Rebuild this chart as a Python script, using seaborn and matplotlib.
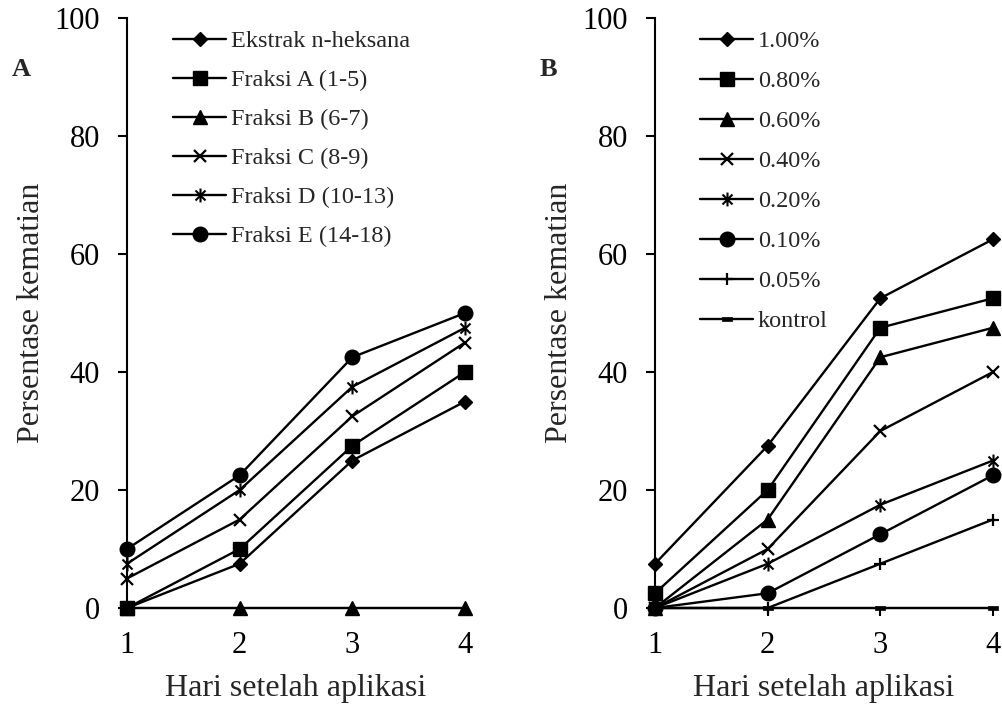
import matplotlib
matplotlib.use("Agg")
import matplotlib.pyplot as plt
import seaborn as sns
from matplotlib.path import Path

# ---------------- data ----------------
days = [1, 2, 3, 4]
x_ticklabels = ["1", "2", "3", "4"]
y_ticks = [0, 20, 40, 60, 80, 100]

labels_a = ["Ekstrak n-heksana", "Fraksi A (1-5)", "Fraksi B (6-7)",
            "Fraksi C (8-9)", "Fraksi D (10-13)", "Fraksi E (14-18)"]
ekstrak = [0, 7.5, 25, 35]
fraksi_a = [0, 10, 27.5, 40]
fraksi_b = [0, 0, 0, 0]
fraksi_c = [5, 15, 32.5, 45]
fraksi_d = [7.5, 20, 37.5, 47.5]
fraksi_e = [10, 22.5, 42.5, 50]

labels_b = ["1.00%", "0.80%", "0.60%", "0.40%", "0.20%", "0.10%", "0.05%", "kontrol"]
k_100 = [7.5, 27.5, 52.5, 62.5]
k_080 = [2.5, 20, 47.5, 52.5]
k_060 = [0, 15, 42.5, 47.5]
k_040 = [0, 10, 30, 40]
k_020 = [0, 7.5, 17.5, 25]
k_010 = [0, 2.5, 12.5, 22.5]
k_005 = [0, 0, 7.5, 15]
kontrol = [0, 0, 0, 0]

xlabel = "Hari setelah aplikasi"
ylabel = "Persentase kematian"

# ---------------- style ----------------
sns.set_style("ticks")
plt.rcParams["font.family"] = ["Liberation Serif", "DejaVu Serif"]

AST = Path([(0, -1), (0, 1), (-0.72, -0.72), (0.72, 0.72), (-0.72, 0.72), (0.72, -0.72)],
           [Path.MOVETO, Path.LINETO, Path.MOVETO, Path.LINETO, Path.MOVETO, Path.LINETO])
DASH = Path([(-1, -0.4), (1, -0.4), (1, 0.4), (-1, 0.4), (-1, -0.4)],
            [Path.MOVETO, Path.LINETO, Path.LINETO, Path.LINETO, Path.CLOSEPOLY])

# marker, size, edge width
sty_a = [("D", 7, 1), ("s", 9.5, 1), ("^", 10, 1), ("x", 9, 1.6), (AST, 10, 1.5), ("o", 10.5, 1)]
sty_b = [("D", 7, 1), ("s", 9.5, 1), ("^", 10, 1), ("x", 9, 1.6), (AST, 10, 1.5),
         ("o", 10.5, 1), ("+", 9, 1.6), (DASH, 7, 0.5)]

TICK_FS = 22
LABEL_FS = 23
LEG_FS = 17.5
LW = 1.7

W, H = 1003, 709
fig = plt.figure(figsize=(W / 100, H / 100), dpi=100)
axA = fig.add_axes([127 / W, 1 - 608 / H, (465 - 127) / W, (608 - 18) / H])
axB = fig.add_axes([655 / W, 1 - 608 / H, (993 - 655) / W, (608 - 18) / H])


def draw(ax, series, labels, styles):
    for vals, lab, (m, ms, mew) in zip(series, labels, styles):
        sns.lineplot(x=days, y=vals, ax=ax, color="black", lw=LW, marker=m,
                     markersize=ms, markeredgewidth=mew, markeredgecolor="black",
                     markerfacecolor="black", label=lab, clip_on=False, zorder=3)


draw(axA, [ekstrak, fraksi_a, fraksi_b, fraksi_c, fraksi_d, fraksi_e], labels_a, sty_a)
draw(axB, [k_100, k_080, k_060, k_040, k_020, k_010, k_005, kontrol], labels_b, sty_b)

for ax in (axA, axB):
    ax.set_xlim(1, 4)
    ax.set_ylim(0, 100)
    ax.set_xticks(days)
    ax.set_xticklabels(x_ticklabels)
    ax.set_yticks(y_ticks)
    for s in ("top", "right"):
        ax.spines[s].set_visible(False)
    for s in ("left", "bottom"):
        ax.spines[s].set_linewidth(1.5)
        ax.spines[s].set_color("black")
    ax.tick_params(axis="y", direction="out", length=6.5, width=1.5, pad=13,
                   labelsize=TICK_FS, colors="black")
    ax.tick_params(axis="x", direction="out", length=5.5, width=1.5, pad=11,
                   labelsize=TICK_FS, colors="black")
    ax.set_xlabel(xlabel, fontsize=LABEL_FS)
    ax.set_ylabel(ylabel, fontsize=LABEL_FS)
    ax.xaxis.set_label_coords(0.5, -0.112)
    ax.yaxis.set_label_coords(-0.24, 0.5)
    ax.set_facecolor("none")

legA = axA.legend(loc="upper left", bbox_to_anchor=(173 / W, 1 - 30 / H),
                  bbox_transform=fig.transFigure, frameon=False, fontsize=LEG_FS,
                  borderpad=0, borderaxespad=0, handlelength=2.2, handletextpad=0.18,
                  labelspacing=0.70)
legB = axB.legend(loc="upper left", bbox_to_anchor=(700 / W, 1 - 30 / H),
                  bbox_transform=fig.transFigure, frameon=False, fontsize=LEG_FS,
                  borderpad=0, borderaxespad=0, handlelength=2.2, handletextpad=0.18,
                  labelspacing=0.74)

fig.text(12 / W, 1 - 70 / H, "A", fontsize=19, fontweight="bold", ha="left", va="center")
fig.text(540 / W, 1 - 70 / H, "B", fontsize=19, fontweight="bold", ha="left", va="center")

fig.savefig("out.png", dpi=100, facecolor="white")
